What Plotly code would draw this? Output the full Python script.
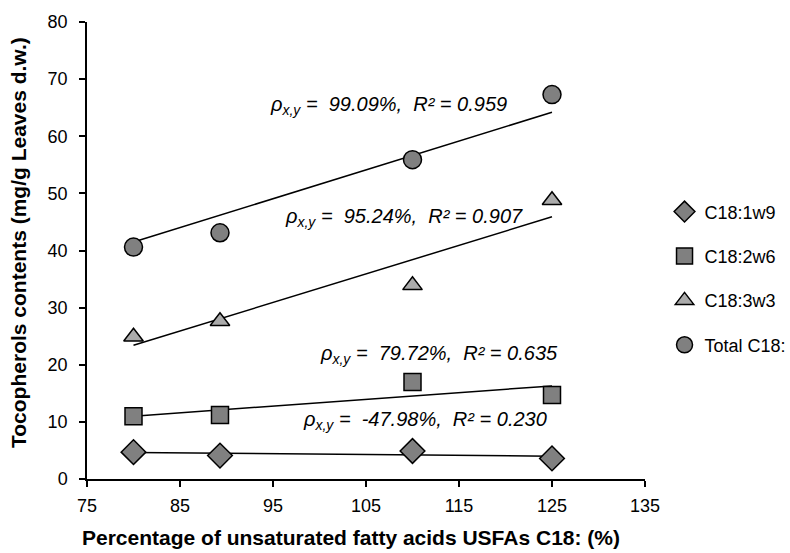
import plotly.graph_objects as go

# Data
x_usfa = [80, 89.3, 110, 125]
series_names = ["C18:1w9", "C18:2w6", "C18:3w3", "Total C18:"]
y_c18_1w9 = [4.7, 4.1, 4.9, 3.6]
y_c18_2w6 = [11.0, 11.2, 17.0, 14.7]
y_c18_3w3 = [24.9, 27.6, 33.9, 48.8]
y_total = [40.6, 43.1, 55.9, 67.3]

# Trendline end points (x = 80 and x = 125)
trend_x = [80, 125]
trend_c18_1w9 = [4.65, 4.0]
trend_c18_2w6 = [11.0, 16.3]
trend_c18_3w3 = [23.4, 45.9]
trend_total = [41.5, 64.2]

labels = [
    ("99.09%", "0.959"),
    ("95.24%", "0.907"),
    ("79.72%", "0.635"),
    ("-47.98%", "0.230"),
]
label_pos_x = [107.4, 109.1, 112.8, 111.3]
label_pos_y = [65.3, 45.7, 21.8, 10.2]

x_title = "Percentage of unsaturated fatty acids USFAs C18: (%)"
y_title = "Tocopherols contents (mg/g Leaves d.w.)"

markers = ["diamond", "square", "triangle-up", "circle"]
fills = ["#808080", "#808080", "#ABABAB", "#808080"]
sizes = [19, 17, 17, 18]
ys = [y_c18_1w9, y_c18_2w6, y_c18_3w3, y_total]
trends = [trend_c18_1w9, trend_c18_2w6, trend_c18_3w3, trend_total]

FONT = "Liberation Sans, Arial, sans-serif"

fig = go.Figure()

for t in trends:
    fig.add_trace(go.Scatter(x=trend_x, y=t, mode="lines",
                             line=dict(color="black", width=1.5),
                             showlegend=False, hoverinfo="skip"))

for i, name in enumerate(series_names):
    fig.add_trace(go.Scatter(
        x=x_usfa, y=ys[i], mode="markers", name=name,
        legendgroup=name,
        marker=dict(symbol=markers[i], size=sizes[i], color=fills[i],
                    line=dict(color="black", width=1.5)),
    ))

for (rho, r2), lx, ly in zip(labels, label_pos_x, label_pos_y):
    fig.add_annotation(
        x=lx, y=ly, xref="x", yref="y", showarrow=False,
        text=f"<i>ρ<sub>x,y</sub> =  {rho},  R² = {r2}</i>",
        font=dict(family=FONT, size=20, color="black"),
    )

# Axis titles
fig.add_annotation(x=0.473, y=-0.129, xref="paper", yref="paper",
                   xanchor="center", yanchor="middle", showarrow=False,
                   text=f"<b>{x_title}</b>",
                   font=dict(family=FONT, size=21, color="black"))
fig.add_annotation(x=-0.1219, y=0.5186, xref="paper", yref="paper",
                   xanchor="center", yanchor="middle", showarrow=False,
                   textangle=-90, text=f"<b>{y_title}</b>",
                   font=dict(family=FONT, size=21, color="black"))

fig.update_layout(
    width=790, height=553,
    margin=dict(l=87, r=145, t=22, b=74, autoexpand=False),
    paper_bgcolor="white", plot_bgcolor="white",
    font=dict(family=FONT, color="black", size=18),
    legend=dict(x=1.035, y=0.625, xanchor="left", yanchor="top",
                font=dict(size=18), tracegroupgap=18,
                bgcolor="rgba(0,0,0,0)"),
    xaxis=dict(range=[75, 135], tickvals=[75, 85, 95, 105, 115, 125, 135],
               showline=True, linecolor="black", linewidth=1.5,
               ticks="outside", ticklen=6, tickwidth=1.5, tickcolor="black",
               showgrid=False, zeroline=False,
               tickfont=dict(size=18), ticklabelstandoff=4),
    yaxis=dict(range=[0, 80], tickvals=[0, 10, 20, 30, 40, 50, 60, 70, 80],
               showline=True, linecolor="black", linewidth=1.5,
               ticks="outside", ticklen=6, tickwidth=1.5, tickcolor="black",
               showgrid=False, zeroline=False,
               tickfont=dict(size=18), ticklabelstandoff=8),
)

fig.write_html("out.html")
